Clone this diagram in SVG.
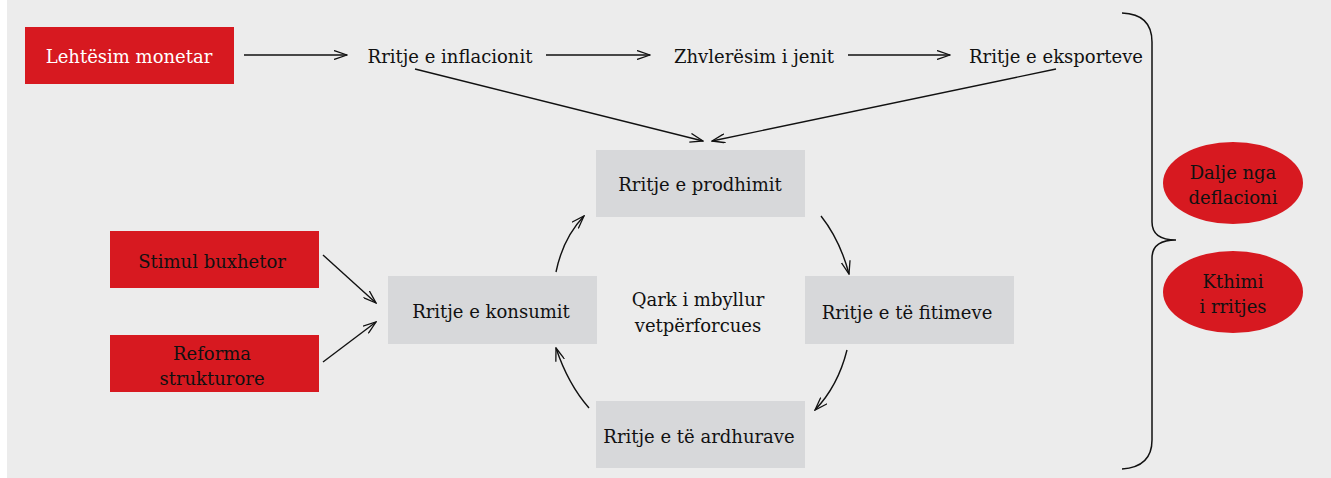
<svg xmlns="http://www.w3.org/2000/svg" width="1331" height="478" viewBox="0 0 1331 478">
<defs>
<marker id="ah" viewBox="0 0 14 10" refX="13" refY="5" markerWidth="14" markerHeight="10" markerUnits="userSpaceOnUse" orient="auto">
<path d="M0,0.5 L13,5 L0,9.5" fill="none" stroke="#111" stroke-width="1.3"/>
</marker>
<style>
text{font-family:"Palatino Linotype","Book Antiqua",Palatino,"DejaVu Serif","Liberation Serif",serif;font-size:18px;fill:#111;text-anchor:middle;dominant-baseline:central}
.red{fill:#d71920}
.gray{fill:#d7d8da}
.w{fill:#fff}
.c path,.c line{fill:none;stroke:#111;stroke-width:1.4;marker-end:url(#ah)}
.brace{fill:none;stroke:#111;stroke-width:1.5}
</style>
</defs>
<rect x="7" y="0" width="1324" height="478" fill="#ececec"/>

<g id="lehtesim"><rect class="red" x="25" y="27" width="209" height="57"/><text class="w" x="129" y="56">Lehtësim monetar</text></g>
<g id="inflacion"><text x="450" y="56">Rritje e inflacionit</text></g>
<g id="zhvleresim"><text x="754" y="56">Zhvlerësim i jenit</text></g>
<g id="eksport"><text x="1056" y="56">Rritje e eksporteve</text></g>
<g id="prodhim"><rect class="gray" x="596" y="150" width="209" height="67"/><text x="700" y="184">Rritje e prodhimit</text></g>
<g id="konsum"><rect class="gray" x="388" y="276" width="209" height="68"/><text x="491" y="311">Rritje e konsumit</text></g>
<g id="fitime"><rect class="gray" x="805" y="276" width="209" height="68"/><text x="907" y="312">Rritje e të fitimeve</text></g>
<g id="ardhura"><rect class="gray" x="596" y="401" width="209" height="67"/><text x="699" y="436">Rritje e të ardhurave</text></g>
<g id="qark"><text x="698" y="299">Qark i mbyllur</text><text x="698" y="325">vetpërforcues</text></g>
<g id="stimul"><rect class="red" x="110" y="231" width="209" height="57"/><text x="212" y="261">Stimul buxhetor</text></g>
<g id="reforma"><rect class="red" x="110" y="335" width="209" height="57"/><text x="212" y="353">Reforma</text><text x="212" y="378">strukturore</text></g>
<g id="dalje"><ellipse class="red" cx="1233" cy="183" rx="70" ry="41"/><text x="1233" y="172">Dalje nga</text><text x="1233" y="197">deflacioni</text></g>
<g id="kthimi"><ellipse class="red" cx="1233" cy="292" rx="70" ry="41"/><text x="1233" y="281">Kthimi</text><text x="1233" y="306">i rritjes</text></g>

<g id="connectors" class="c">
<line x1="244" y1="55" x2="347" y2="55"/>
<line x1="546" y1="55" x2="650" y2="55"/>
<line x1="848" y1="55" x2="950" y2="55"/>
<line x1="415" y1="69" x2="703" y2="141"/>
<line x1="1056" y1="69" x2="712" y2="141"/>
<line x1="323" y1="255" x2="376" y2="303"/>
<line x1="323" y1="362" x2="376" y2="322"/>
<path d="M556,272 Q563,238 584,216"/>
<path d="M821,216 Q840,240 849,274"/>
<path d="M847,350 Q838,386 815,410"/>
<path d="M589,408 Q568,384 556,348"/>
</g>
<path class="brace" d="M1122,13 Q1152,14 1152,42 L1152,222 Q1152,240 1176,240 Q1152,240 1152,258 L1152,440 Q1152,467 1122,469"/>
</svg>
